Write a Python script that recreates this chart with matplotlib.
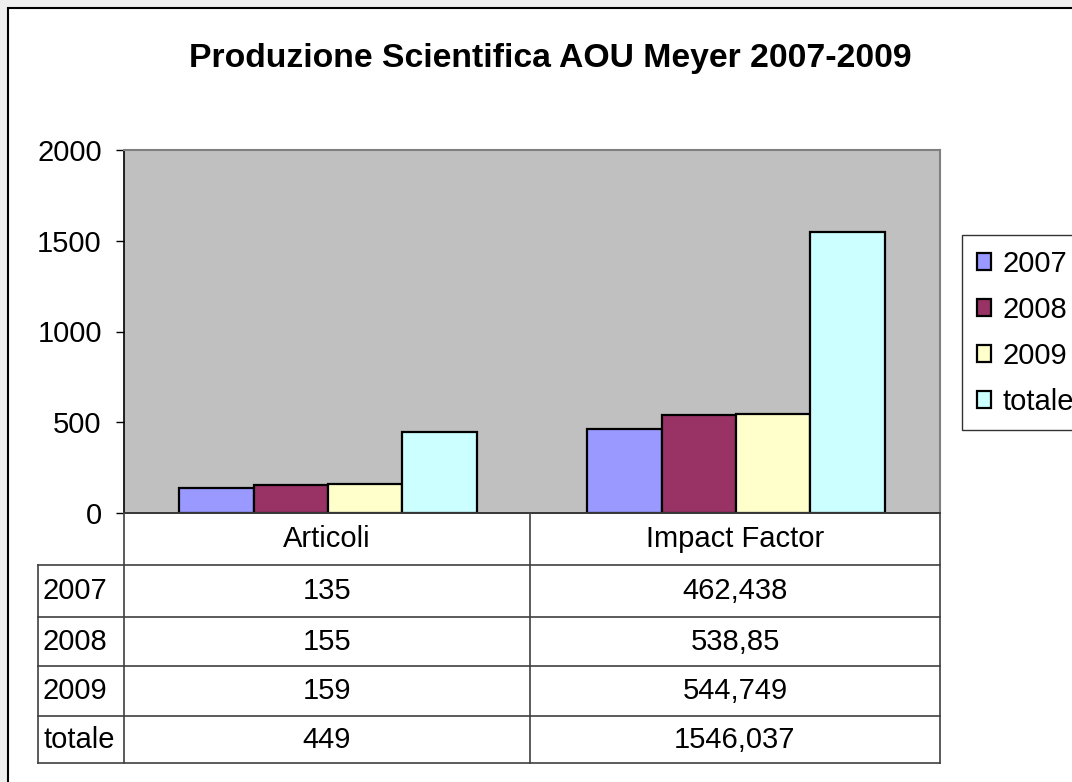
import matplotlib.pyplot as plt
from matplotlib.patches import Rectangle
import numpy as np

plt.rcParams['font.family'] = ['Liberation Sans', 'DejaVu Sans']

## data
categories = ['Articoli', 'Impact Factor']
years = ['2007', '2008', '2009', 'totale']
articoli = [135, 155, 159, 449]
impact = [462.438, 538.85, 544.749, 1546.037]
yticks = [0, 500, 1000, 1500, 2000]

col = {}
col['2007'] = '#9999FF'
col['2008'] = '#993366'
col['2009'] = '#FFFFCC'
col['totale'] = '#CCFFFF'

W, H = 1072, 782
fs = 21

fig = plt.figure(figsize=(W / 100, H / 100), dpi=100, facecolor='#efefef')

def fx(px):
    return px / W

def fy(py):
    return 1 - py / H

# white chart area with border (runs off right and bottom)
bg = Rectangle((fx(8), fy(800)), fx(1100), fy(8) - fy(800),
               transform=fig.transFigure, facecolor='white',
               edgecolor='black', linewidth=1.5, zorder=-10)
fig.add_artist(bg)

ax = fig.add_axes([fx(124), fy(513), fx(940) - fx(124), fy(150) - fy(513)])
ax.set_facecolor('#C0C0C0')

x = np.arange(len(categories))
bw = 0.182
vals = np.array([articoli, impact]).T
for i, yr in enumerate(years):
    ax.bar(x + (i - 1.5) * bw, vals[i], width=bw, color=col[yr],
           edgecolor='black', linewidth=1.6, label=yr, zorder=3)

ax.set_xlim(-0.5, 1.5)
ax.set_ylim(0, 2000)
ax.set_yticks(yticks)
ax.set_yticklabels([str(t) for t in yticks], fontsize=fs)
ax.tick_params(axis='y', length=6, width=1, pad=10, direction='out')
ax.set_xticks([])
for s in ['top', 'right']:
    ax.spines[s].set_color('#808080')
    ax.spines[s].set_linewidth(1.5)
for s in ['left', 'bottom']:
    ax.spines[s].set_color('black')
    ax.spines[s].set_linewidth(1.2)

fig.text(fx(550), fy(59), 'Produzione Scientifica AOU Meyer 2007-2009',
         ha='center', va='center', fontsize=24.3, fontweight='bold')

leg = fig.legend(loc='upper left', bbox_to_anchor=(fx(962), fy(235)),
                 fontsize=fs, frameon=True, fancybox=False, handlelength=0.5,
                 handleheight=0.5, handletextpad=0.38, labelspacing=0.62,
                 borderpad=0.5, borderaxespad=0)
leg.get_frame().set_edgecolor('black')
leg.get_frame().set_linewidth(1)

# data table under the chart
row_y = [513, 565, 617, 666, 716, 763]
xl, xa, xm, xr = 38, 124, 530, 940
lk = dict(color='#404040', linewidth=1.2, transform=fig.transFigure)
fig.add_artist(plt.Line2D([fx(xa), fx(xr)], [fy(row_y[0]), fy(row_y[0])], **lk))
for yy in row_y[1:]:
    fig.add_artist(plt.Line2D([fx(xl), fx(xr)], [fy(yy), fy(yy)], **lk))
fig.add_artist(plt.Line2D([fx(xl), fx(xl)], [fy(row_y[1]), fy(row_y[-1])], **lk))
for xx in [xa, xm, xr]:
    fig.add_artist(plt.Line2D([fx(xx), fx(xx)], [fy(row_y[0]), fy(row_y[-1])], **lk))

col_cx = [(xa + xm) / 2, (xm + xr) / 2]
for j, cat in enumerate(categories):
    fig.text(fx(col_cx[j]), fy((row_y[0] + row_y[1]) / 2), cat,
             ha='center', va='center', fontsize=fs)
for i, yr in enumerate(years):
    cy = fy((row_y[i + 1] + row_y[i + 2]) / 2)
    fig.text(fx(xl + 5), cy, yr, ha='left', va='center', fontsize=fs)
    fig.text(fx(col_cx[0]), cy, str(articoli[i]).replace('.', ','),
             ha='center', va='center', fontsize=fs)
    fig.text(fx(col_cx[1]), cy, str(impact[i]).replace('.', ','),
             ha='center', va='center', fontsize=fs)

fig.savefig('out.png', dpi=100, facecolor=fig.get_facecolor())
